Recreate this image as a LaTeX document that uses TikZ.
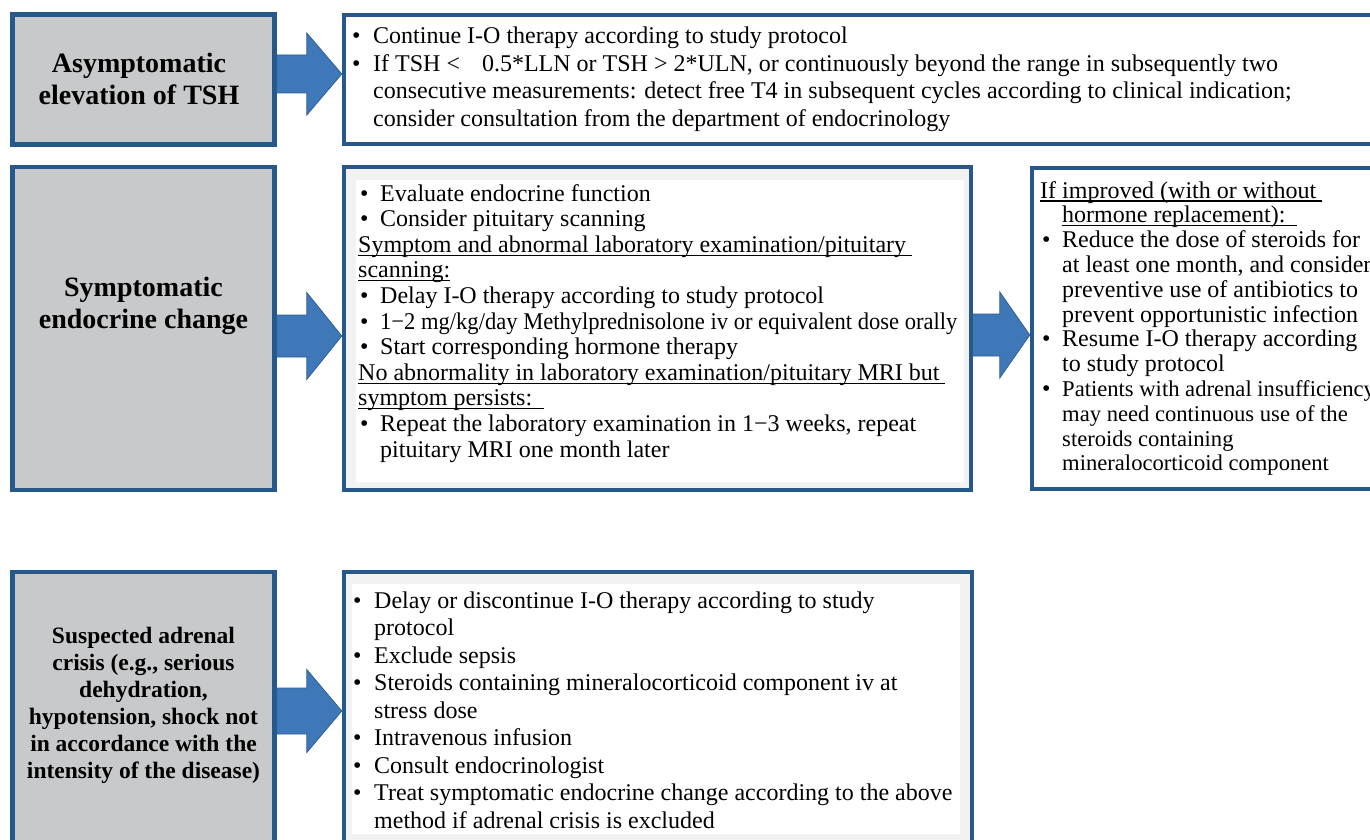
\documentclass[tikz,border=0pt]{standalone}
\usepackage{fontspec}
\setmainfont{Liberation Serif}
\usetikzlibrary{calc}

\definecolor{boxblue}{HTML}{26588C}
\definecolor{grayfill}{HTML}{C8C9CB}
\definecolor{arrowfill}{HTML}{3E78B9}
\definecolor{arrowedge}{HTML}{2F5E94}
\definecolor{panelgray}{HTML}{F2F2F2}

\tikzset{
  stagebox/.style={rectangle, draw=boxblue, line width=4.5pt, fill=grayfill,
    inner sep=0pt, outer sep=0pt, anchor=north west},
  actionbox/.style={stagebox, fill=white},
  headtext/.style={anchor=base, inner sep=0pt, text=black,
    font=\fontsize{28}{31.8}\selectfont\bfseries},
  crisistext/.style={headtext, font=\fontsize{23.5}{27}\selectfont\bfseries},
  listtext/.style={anchor=base west, inner sep=0pt, text=black},
  arrowstyle/.style={fill=arrowfill, draw=arrowedge, line width=0.8pt, line join=miter},
}

% bullet cell of a list row: width of the hanging indent, bullet offset
\newcommand\bul[2]{\makebox[#1][l]{\hspace{#2}\textbullet}}
% slightly smaller type used in the last item of the right-hand list
\newcommand\smalltype[1]{{\fontsize{22.6}{24.8}\selectfont #1}}
% underline drawn at a fixed distance below the baseline
\newsavebox\ulinebox
\newcommand\uline[1]{\sbox\ulinebox{#1}\rlap{\rule[-3.6pt]{\wd\ulinebox}{1.3pt}}\usebox\ulinebox}

% block arrow from the east side of #1 to the west side of #2,
% centred on y=#3, shaft half height #4, head half height #5, head length #6
\newcommand\blockarrow[6]{%
  \path[arrowstyle] let \p1=(#1.east), \p2=(#2.west) in
    ({\x1+2.25pt},{-(#3-#4)*1pt}) -- ({\x2-2.25pt-#6*1pt},{-(#3-#4)*1pt})
    -- ({\x2-2.25pt-#6*1pt},{-(#3-#5)*1pt}) -- ({\x2-2.25pt},{-#3*1pt})
    -- ({\x2-2.25pt-#6*1pt},{-(#3+#5)*1pt}) -- ({\x2-2.25pt-#6*1pt},{-(#3+#4)*1pt})
    -- ({\x1+2.25pt},{-(#3+#4)*1pt}) -- cycle;}

\begin{document}
\begin{tikzpicture}[x=1pt,y=-1pt]
\useasboundingbox (0,0) rectangle (1370,840);
\clip (0,0) rectangle (1370,840);
\fill[white] (0,0) rectangle (1370,840);

% ---- stage boxes (left column) and action boxes ----
\node[stagebox, minimum width=262pt, minimum height=130pt] (sTSH) at (12.5,14.5) {};
\node[actionbox, minimum width=1060pt, minimum height=129pt] (aTSH) at (344,15) {};

\node[stagebox, minimum width=262pt, minimum height=323pt] (sEndo) at (12.5,167) {};
\node[actionbox, fill=panelgray, minimum width=627pt, minimum height=323pt] (aEndo) at (344,167) {};
\fill[white] (356,180) rectangle (964,482);
\node[actionbox, minimum width=400pt, minimum height=321pt] (aImpr) at (1032,168) {};

\node[stagebox, minimum width=262pt, minimum height=300pt] (sAdr) at (12.5,572) {};
\node[actionbox, fill=panelgray, minimum width=628pt, minimum height=300pt] (aAdr) at (344,572) {};
\fill[white] (352,584) rectangle (960,834);

% ---- arrows ----
\blockarrow{sTSH}{aTSH}{74}{19}{41}{35}
\blockarrow{sEndo}{aEndo}{336}{21}{43.5}{35}
\blockarrow{aEndo}{aImpr}{335}{21}{43}{30}
\blockarrow{sAdr}{aAdr}{711}{23}{41.5}{35}

% ---- stage labels ----
\node[headtext] (hTSH) at (139,73) {\begin{tabular}[t]{@{}c@{}}Asymptomatic\\elevation of TSH\end{tabular}};
\node[headtext] (hEndo) at (143.5,296.5) {\begin{tabular}[t]{@{}c@{}}Symptomatic\\endocrine change\end{tabular}};
\node[crisistext] (hAdr) at (143.5,643) {\begin{tabular}[t]{@{}c@{}}Suspected adrenal\\crisis (e.g., serious\\dehydration,\\hypotension, shock not\\in accordance with the\\intensity of the disease)\end{tabular}};

% ---- action lists ----
\node[listtext, font=\fontsize{24}{27.4}\selectfont] (lTSH) at (352,44) {%
\begin{tabular}[t]{@{}l@{}l@{}}
\bul{21pt}{0pt} & Continue I-O therapy according to study protocol\\
\bul{21pt}{0pt} & If TSH <\hspace{22pt}0.5*LLN or TSH > 2*ULN, or continuously beyond the range in subsequently two\\
 & consecutive measurements: detect free T4 in subsequent cycles according to clinical indication;\\
 & consider consultation from the department of endocrinology
\end{tabular}};

\node[listtext, font=\fontsize{24}{25.6}\selectfont] (lEndo) at (358,201) {%
\begin{tabular}[t]{@{}l@{}l@{}}
\bul{22pt}{2pt} & Evaluate endocrine function\\
\bul{22pt}{2pt} & Consider pituitary scanning\\
\multicolumn{2}{@{}l@{}}{\uline{Symptom and abnormal laboratory examination/pituitary\ }}\\
\multicolumn{2}{@{}l@{}}{\uline{scanning:}}\\
\bul{22pt}{2pt} & Delay I-O therapy according to study protocol\\
\bul{22pt}{2pt} & \scalebox{0.94}[1]{1−2 mg/kg/day Methylprednisolone iv or equivalent dose orally}\\
\bul{22pt}{2pt} & Start corresponding hormone therapy\\
\multicolumn{2}{@{}l@{}}{\uline{No abnormality in laboratory examination/pituitary MRI but\ }}\\
\multicolumn{2}{@{}l@{}}{\uline{symptom persists:\ \ }}\\
\bul{22pt}{2pt} & Repeat the laboratory examination in 1−3 weeks, repeat\\
 & pituitary MRI one month later
\end{tabular}};

\node[listtext, font=\fontsize{24}{24.8}\selectfont] (lImpr) at (1040,198) {%
\begin{tabular}[t]{@{}l@{}l@{}}
\multicolumn{2}{@{}l@{}}{\uline{If improved (with or without\ }}\\
\hspace{22pt} & \uline{hormone replacement):\ \ }\\
\bul{22pt}{2pt} & Reduce the dose of steroids for\\
 & at least one month, and consider\\
 & preventive use of antibiotics to\\
 & prevent opportunistic infection\\
\bul{22pt}{2pt} & Resume I-O therapy according\\
 & to study protocol\\
\bul{22pt}{2pt} & \smalltype{Patients with adrenal insufficiency}\\
 & \smalltype{may need continuous use of the}\\
 & \smalltype{steroids containing}\\
 & \smalltype{mineralocorticoid component}
\end{tabular}};

\node[listtext, font=\fontsize{24}{27.5}\selectfont] (lAdr) at (353,608) {%
\begin{tabular}[t]{@{}l@{}l@{}}
\bul{21pt}{0pt} & Delay or discontinue I-O therapy according to study\\
 & protocol\\
\bul{21pt}{0pt} & Exclude sepsis\\
\bul{21pt}{0pt} & Steroids containing mineralocorticoid component iv at\\
 & stress dose\\
\bul{21pt}{0pt} & Intravenous infusion\\
\bul{21pt}{0pt} & Consult endocrinologist\\
\bul{21pt}{0pt} & Treat symptomatic endocrine change according to the above\\
 & method if adrenal crisis is excluded
\end{tabular}};
\end{tikzpicture}
\end{document}
